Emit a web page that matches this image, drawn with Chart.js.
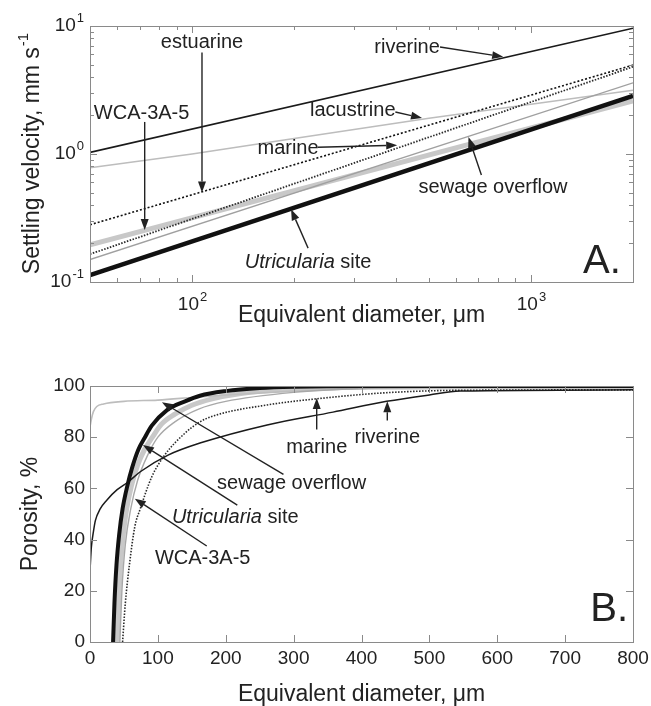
<!DOCTYPE html>
<html>
<head>
<meta charset="utf-8">
<script src="https://cdn.jsdelivr.net/npm/chart.js@4.4.0/dist/chart.umd.min.js"></script>
<style>
  body { margin: 0; background: #fff; }
  canvas { display: block; }
</style>
</head>
<body>
<canvas id="chartA" width="651" height="340"></canvas>
<canvas id="chartB" width="651" height="366"></canvas>
<script>
// Panel A: settling velocity (mm/s) against equivalent diameter (um), log-log
const aRiverineD = [50, 2000];
const aRiverineV = [1.03, 9.6];
const aLacustrineD = [50, 100, 200, 500, 1000, 2000];
const aLacustrineV = [0.78, 1.0, 1.32, 1.9, 2.45, 3.15];
const aEstuarineD = [50, 2000];
const aEstuarineV = [0.28, 4.95];
const aMarineD = [50, 2000];
const aMarineV = [0.165, 4.8];
const aWcaD = [50, 2000];
const aWcaV = [0.195, 2.6];
const aSewageD = [50, 2000];
const aSewageV = [0.15, 3.6];
const aUtricD = [50, 2000];
const aUtricV = [0.113, 2.85];

// Panel B: porosity (%) against equivalent diameter (um)
const bLacustrineD = [0, 2, 5, 10, 20, 50, 100, 150, 200, 300, 400, 500, 800];
const bLacustrineP = [84, 87, 90, 92, 93, 94, 94.5, 95.5, 96.5, 98, 99, 99.5, 99.8];
const bRiverineD = [0, 2, 5, 8, 15, 25, 40, 56, 74, 115, 162, 261, 358, 437, 500, 545, 800];
const bRiverineP = [28, 37, 43, 47.5, 52, 55.5, 59.5, 62.5, 66.5, 73, 77.7, 84.8, 89.8, 94, 96.5, 98, 98.5];
const bMarineD = [48, 52, 58, 66, 74, 91, 110, 140, 162, 184, 261, 334, 432, 540, 800];
const bMarineP = [0, 15, 30, 45, 52, 64.5, 73, 81.6, 86, 88.5, 92.6, 95, 97.3, 98.3, 98.5];
const bSewageD = [44, 47, 52, 60, 70, 85, 100, 125, 160, 200, 300, 400, 550, 800];
const bSewageP = [0, 20, 38, 52, 63, 73, 80, 86, 91, 94, 97.5, 99, 99.5, 99.6];
const bWcaD = [40, 42, 45, 49, 54, 61, 70, 80, 92, 105, 125, 150, 180, 220, 300, 400, 800];
const bWcaP = [0, 15, 30, 42, 52, 61, 69, 75, 80, 85, 89, 92.5, 95, 97, 98.8, 99.5, 99.8];
const bUtricD = [34, 36, 39, 43, 48, 55, 62, 71, 81, 91, 113, 140, 162, 200, 250, 300, 400, 800];
const bUtricP = [0, 15, 30, 42, 52, 61, 68, 75, 80, 84.5, 90.5, 94, 96.2, 98, 99.2, 99.7, 100, 100];

// tick values
const aTicksX = [100, 1000];
const aTicksY = [0.1, 1, 10];
const bTicksX = [0, 100, 200, 300, 400, 500, 600, 700, 800];
const bTicksY = [0, 20, 40, 60, 80, 100];

// annotation labels with arrows, in data units
const notesA = [
  { text: [['estuarine']], at: [107, 7.5], tail: [107, 6.2], tip: [107, 0.5] },
  { text: [['WCA-3A-5']], at: [71, 2.09], tail: [72.5, 1.78], tip: [72.5, 0.255] },
  { text: [['riverine']], at: [431, 6.85], tail: [539, 6.85], tip: [828, 5.75] },
  { text: [['lacustrine']], at: [298, 2.2], tail: [398, 2.13], tip: [477, 1.91] },
  { text: [['marine']], at: [192, 1.11], tail: [235, 1.13], tip: [403, 1.17] },
  { text: [['sewage overflow']], at: [773, 0.543], tail: [714, 0.686], tip: [654, 1.36] },
  { text: [['Utricularia', true], [' site']], at: [220, 0.141], tail: [220, 0.184], tip: [196, 0.37] }
];
const notesB = [
  { text: [['marine']], at: [334, 75.8], tail: [334, 83], tip: [334, 95.3] },
  { text: [['riverine']], at: [438, 80], tail: [438, 86.5], tip: [438, 94] },
  { text: [['sewage overflow']], at: [297, 62], tail: [285, 65.5], tip: [106, 93.7] },
  { text: [['Utricularia', true], [' site']], at: [214, 48.5], tail: [217, 53.5], tip: [78, 77] },
  { text: [['WCA-3A-5']], at: [166, 32.5], tail: [172, 37.5], tip: [66, 56] }
];

const FONT = '"Liberation Sans", Arial, Helvetica, sans-serif';
const INK = '#222';
const FRAME = '#8a8a8a';

function pts(xs, ys) {
  return xs.map((x, i) => ({ x: x, y: ys[i] }));
}

function drawArrow(ctx, x1, y1, x2, y2) {
  const ang = Math.atan2(y2 - y1, x2 - x1);
  const len = 11, half = 4;
  const bx = x2 - len * Math.cos(ang), by = y2 - len * Math.sin(ang);
  ctx.beginPath();
  ctx.moveTo(x1, y1);
  ctx.lineTo(bx, by);
  ctx.stroke();
  ctx.beginPath();
  ctx.moveTo(x2, y2);
  ctx.lineTo(bx + half * Math.sin(ang), by - half * Math.cos(ang));
  ctx.lineTo(bx - half * Math.sin(ang), by + half * Math.cos(ang));
  ctx.closePath();
  ctx.fill();
}

function drawRich(ctx, parts, cx, cy, size) {
  let total = 0;
  parts.forEach(p => {
    ctx.font = (p[1] ? 'italic ' : '') + size + 'px ' + FONT;
    total += ctx.measureText(p[0]).width;
  });
  let x = cx - total / 2;
  ctx.textAlign = 'left';
  ctx.textBaseline = 'middle';
  parts.forEach(p => {
    ctx.font = (p[1] ? 'italic ' : '') + size + 'px ' + FONT;
    ctx.fillText(p[0], x, cy);
    x += ctx.measureText(p[0]).width;
  });
}

function powerLabel(ctx, exp, x, y, align) {
  ctx.font = '19px ' + FONT;
  const w10 = ctx.measureText('10').width;
  ctx.font = '13px ' + FONT;
  const we = ctx.measureText(exp).width;
  let start = align === 'right' ? x - w10 - we : x - (w10 + we) / 2;
  ctx.textAlign = 'left';
  ctx.textBaseline = 'middle';
  ctx.font = '19px ' + FONT;
  ctx.fillText('10', start, y);
  ctx.font = '13px ' + FONT;
  ctx.fillText(exp, start + w10 + 1, y - 8);
}

// frame, inward ticks on all four sides, tick labels, titles, notes
const matlabAxes = {
  id: 'matlabAxes',
  afterDraw(chart, args, opts) {
    const ctx = chart.ctx;
    const a = chart.chartArea;
    const sx = chart.scales.x, sy = chart.scales.y;
    ctx.save();
    ctx.strokeStyle = FRAME;
    ctx.lineWidth = 1;
    ctx.strokeRect(a.left + 0.5, a.top + 0.5, a.right - a.left, a.bottom - a.top);

    const tick = (px, len, horiz) => {
      ctx.beginPath();
      if (horiz) {
        ctx.moveTo(px, a.bottom); ctx.lineTo(px, a.bottom - len);
        ctx.moveTo(px, a.top); ctx.lineTo(px, a.top + len);
      } else {
        ctx.moveTo(a.left, px); ctx.lineTo(a.left + len, px);
        ctx.moveTo(a.right, px); ctx.lineTo(a.right - len, px);
      }
      ctx.stroke();
    };
    opts.majorX.forEach(v => tick(Math.round(sx.getPixelForValue(v)) + 0.5, 7, true));
    opts.majorY.forEach(v => tick(Math.round(sy.getPixelForValue(v)) + 0.5, 7, false));
    if (opts.log) {
      [sx, sy].forEach((s, k) => {
        for (let d = Math.pow(10, Math.floor(Math.log10(s.min))); d < s.max; d *= 10) {
          for (let m = 2; m <= 9; m++) {
            const v = m * d;
            if (v > s.min && v < s.max) tick(Math.round(s.getPixelForValue(v)) + 0.5, 4, k === 0);
          }
        }
      });
    }

    ctx.fillStyle = INK;
    if (opts.log) {
      opts.majorX.forEach(v => powerLabel(ctx, String(Math.round(Math.log10(v))), sx.getPixelForValue(v), a.bottom + 23, 'center'));
      opts.majorY.forEach(v => powerLabel(ctx, String(Math.round(Math.log10(v))), a.left - 7, sy.getPixelForValue(v), 'right'));
    } else {
      ctx.font = '19px ' + FONT;
      ctx.textBaseline = 'middle';
      ctx.textAlign = 'center';
      opts.majorX.forEach(v => ctx.fillText(String(v), sx.getPixelForValue(v), a.bottom + 17));
      ctx.textAlign = 'right';
      opts.majorY.forEach(v => ctx.fillText(String(v), a.left - 5, sy.getPixelForValue(v)));
    }

    // axis titles
    ctx.font = '23px ' + FONT;
    ctx.textAlign = 'center';
    ctx.textBaseline = 'middle';
    ctx.fillText(opts.xTitle, (a.left + a.right) / 2, opts.xTitleY);
    ctx.save();
    ctx.translate(opts.yTitleX, (a.top + a.bottom) / 2);
    ctx.rotate(-Math.PI / 2);
    if (opts.ySup) {
      const w = ctx.measureText(opts.yTitle).width;
      ctx.font = '15px ' + FONT;
      const ws = ctx.measureText(opts.ySup).width;
      ctx.font = '23px ' + FONT;
      ctx.textAlign = 'left';
      ctx.fillText(opts.yTitle, -(w + ws) / 2, 0);
      ctx.font = '15px ' + FONT;
      ctx.fillText(opts.ySup, -(w + ws) / 2 + w + 1, -9);
    } else {
      ctx.fillText(opts.yTitle, 0, 0);
    }
    ctx.restore();

    // annotations
    ctx.strokeStyle = INK;
    ctx.fillStyle = INK;
    ctx.lineWidth = 1.4;
    opts.notes.forEach(n => {
      drawArrow(ctx, sx.getPixelForValue(n.tail[0]), sy.getPixelForValue(n.tail[1]),
        sx.getPixelForValue(n.tip[0]), sy.getPixelForValue(n.tip[1]));
      drawRich(ctx, n.text, sx.getPixelForValue(n.at[0]), sy.getPixelForValue(n.at[1]), 20);
    });
    ctx.font = '40px ' + FONT;
    ctx.textAlign = 'center';
    ctx.textBaseline = 'middle';
    ctx.fillText(opts.letter[0], sx.getPixelForValue(opts.letter[1]), sy.getPixelForValue(opts.letter[2]));
    ctx.restore();
  }
};

function lineSet(data, color, width, dash, smooth) {
  return {
    data: data,
    borderColor: color,
    borderWidth: width,
    borderDash: dash || [],
    pointRadius: 0,
    fill: false,
    tension: 0,
    cubicInterpolationMode: smooth ? 'monotone' : 'default'
  };
}

// first dataset is drawn on top
new Chart(document.getElementById('chartA'), {
  type: 'line',
  data: {
    datasets: [
      lineSet(pts(aUtricD, aUtricV), '#111', 4.5),
      lineSet(pts(aRiverineD, aRiverineV), '#1a1a1a', 1.6),
      lineSet(pts(aEstuarineD, aEstuarineV), '#111', 1.6, [2, 2]),
      lineSet(pts(aMarineD, aMarineV), '#2a2a2a', 1.8, [1.5, 1.5]),
      lineSet(pts(aSewageD, aSewageV), '#a0a0a0', 1.4),
      lineSet(pts(aLacustrineD, aLacustrineV), '#bdbdbd', 1.6),
      lineSet(pts(aWcaD, aWcaV), '#c8c8c8', 5)
    ]
  },
  options: {
    responsive: false,
    animation: false,
    events: [],
    layout: { padding: { left: 90, right: 18, top: 26, bottom: 58 } },
    scales: {
      x: { type: 'logarithmic', min: 50, max: 2000, display: false },
      y: { type: 'logarithmic', min: 0.1, max: 10, display: false }
    },
    plugins: {
      legend: { display: false },
      tooltip: { enabled: false },
      matlabAxes: {
        log: true,
        majorX: aTicksX,
        majorY: aTicksY,
        xTitle: 'Equivalent diameter, \u03bcm',
        xTitleY: 316,
        yTitle: 'Settling velocity, mm s',
        ySup: '-1',
        yTitleX: 33,
        notes: notesA,
        letter: ['A.', 1620, 0.143]
      }
    }
  },
  plugins: [matlabAxes]
});

new Chart(document.getElementById('chartB'), {
  type: 'line',
  data: {
    datasets: [
      lineSet(pts(bUtricD, bUtricP), '#111', 4, null, true),
      lineSet(pts(bRiverineD, bRiverineP), '#1a1a1a', 1.5, null, true),
      lineSet(pts(bMarineD, bMarineP), '#2a2a2a', 1.6, [1.5, 1.5], true),
      lineSet(pts(bSewageD, bSewageP), '#a8a8a8', 1.4, null, true),
      lineSet(pts(bLacustrineD, bLacustrineP), '#bdbdbd', 1.6, null, true),
      lineSet(pts(bWcaD, bWcaP), '#c8c8c8', 5, null, true)
    ]
  },
  options: {
    responsive: false,
    animation: false,
    events: [],
    layout: { padding: { left: 90, right: 18, top: 46, bottom: 64 } },
    scales: {
      x: { type: 'linear', min: 0, max: 800, display: false },
      y: { type: 'linear', min: 0, max: 100, display: false }
    },
    plugins: {
      legend: { display: false },
      tooltip: { enabled: false },
      matlabAxes: {
        log: false,
        majorX: bTicksX,
        majorY: bTicksY,
        xTitle: 'Equivalent diameter, \u03bcm',
        xTitleY: 355,
        yTitle: 'Porosity, %',
        yTitleX: 31,
        notes: notesB,
        letter: ['B.', 765, 12.5]
      }
    }
  },
  plugins: [matlabAxes]
});
</script>
</body>
</html>
